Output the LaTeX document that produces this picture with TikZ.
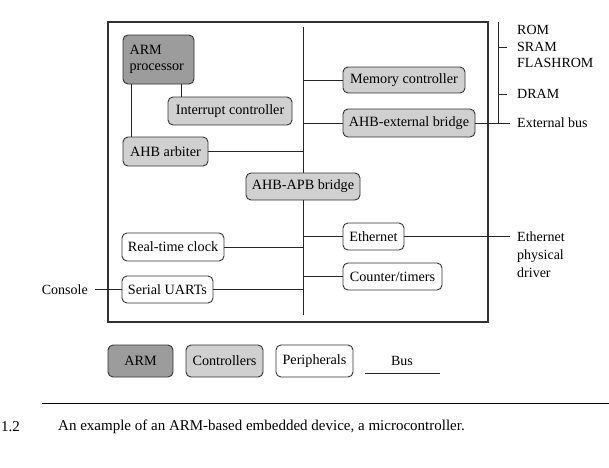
\documentclass[tikz,border=0pt]{standalone}
\usepackage{fontspec}
\setmainfont{Liberation Serif}
\usetikzlibrary{calc}
\definecolor{armgray}{HTML}{9C9C9C}
\definecolor{ctrlgray}{HTML}{D0D0D0}
\definecolor{edge}{HTML}{333333}
\tikzset{
  box/.style={draw=edge, line width=0.9pt, rounded corners=5pt, inner sep=1pt, font=\fontsize{14.2}{16}\selectfont},
  armbox/.style={box, fill=armgray},
  ctrlbox/.style={box, fill=ctrlgray},
  perbox/.style={box, fill=white},
  wire/.style={draw=black!85, line width=0.8pt},
  lbl/.style={font=\fontsize{14}{18}\selectfont, inner sep=0pt},
}
\begin{document}
\begin{tikzpicture}[x=1pt,y=-1pt]
\useasboundingbox (0,0) rectangle (609,467);
% outer box
\draw[draw=edge, line width=1.3pt] (108,22) rectangle (488,322);
% nodes
\node[armbox, minimum width=71pt, minimum height=49pt, text width=58pt, align=left] (arm) at (158.5,59.5) {ARM\\processor};
\node[ctrlbox, minimum width=124pt, minimum height=28pt] (intc) at (230,111) {Interrupt controller};
\node[ctrlbox, minimum width=85pt, minimum height=29pt] (arb) at (165.5,151.5) {AHB arbiter};
\node[ctrlbox, minimum width=114pt, minimum height=27pt] (apb) at (303,186.5) {AHB-APB bridge};
\node[ctrlbox, minimum width=122pt, minimum height=26pt] (mem) at (404,80) {Memory controller};
\node[ctrlbox, minimum width=132pt, minimum height=28pt] (aeb) at (409,123) {AHB-external bridge};
\node[perbox, minimum width=61pt, minimum height=27pt] (eth) at (373.5,236.5) {Ethernet};
\node[perbox, minimum width=99pt, minimum height=27pt] (ctr) at (392.5,276.5) {Counter/timers};
\node[perbox, minimum width=102pt, minimum height=28pt] (rtc) at (173,247) {Real-time clock};
\node[perbox, minimum width=91pt, minimum height=27pt] (uart) at (167.5,289.5) {Serial UARTs};
% bus
\coordinate (bustop) at (303,27);
\coordinate (busbot) at (303,315);
\draw[wire] (bustop) -- (apb.north);
\draw[wire] (apb.south) -- (busbot);
\draw[wire] (mem.west) -- (mem.west -| bustop);
\draw[wire] (aeb.west) -- (aeb.west -| bustop);
\draw[wire] (arb.east) -- (arb.east -| bustop);
\draw[wire] (eth.west) -- (eth.west -| bustop);
\draw[wire] (ctr.west) -- (ctr.west -| bustop);
\draw[wire] (rtc.east) -- (rtc.east -| bustop);
\draw[wire] (uart.east) -- (uart.east -| bustop);
% ARM links
\draw[wire] ([xshift=9pt]arm.south west) -- ([xshift=9pt]arm.south west |- arb.north);
\draw[wire] ([xshift=-13pt]arm.south east) -- ([xshift=-13pt]arm.south east |- intc.north);
% external memory bus
\coordinate (extend) at (510,123);
\coordinate (memtop) at (498,22);
\draw[wire] (aeb.east) -- (extend);
\draw[wire] (memtop) -- (memtop |- extend);
\draw[wire] (498,47) coordinate (t1) -- (507,47) coordinate (t1e);
\draw[wire] (498,94) coordinate (t2) -- (507,94) coordinate (t2e);
\node[lbl, anchor=west] (rom) at (517,30) {ROM};
\node[lbl, anchor=west] (sram) at (517,47) {SRAM};
\node[lbl, anchor=west] (flash) at (517,63) {FLASHROM};
\node[lbl, anchor=west] (dram) at (517,94) {DRAM};
\node[lbl, anchor=west] (extbus) at (517,123) {External bus};
% ethernet driver
\coordinate (ethend) at (510,236.5);
\draw[wire] (eth.east) -- (ethend);
\node[lbl, anchor=west, align=left] (phy) at (517,254.5) {Ethernet\\physical\\driver};
% console
\node[lbl, anchor=east] (console) at (88,289.5) {Console};
\draw[wire] ([xshift=7pt]console.east) -- (uart.west);
% legend
\node[armbox, minimum width=65pt, minimum height=32pt] (lgarm) at (140.5,361) {ARM};
\node[ctrlbox, minimum width=77pt, minimum height=32pt] (lgctrl) at (224.5,361) {Controllers};
\node[perbox, minimum width=77pt, minimum height=32pt] (lgper) at (314.5,361) {Peripherals};
\node[lbl] (lgbus) at (402,361) {Bus};
\coordinate (lbl1) at (365,373);
\coordinate (lbl2) at (440,373);
\draw[wire] (lbl1) -- (lbl2);
% caption
\coordinate (sep1) at (42,403);
\coordinate (sep2) at (609,403);
\draw[line width=0.9pt] (sep1) -- (sep2);
\node[lbl, font=\fontsize{15}{18}\selectfont, anchor=west] (capnum) at (1,427) {1.2};
\node[lbl, font=\fontsize{15}{18}\selectfont, anchor=west] (cap) at (58,427) {An example of an ARM-based embedded device, a microcontroller.};
\end{tikzpicture}
\end{document}
